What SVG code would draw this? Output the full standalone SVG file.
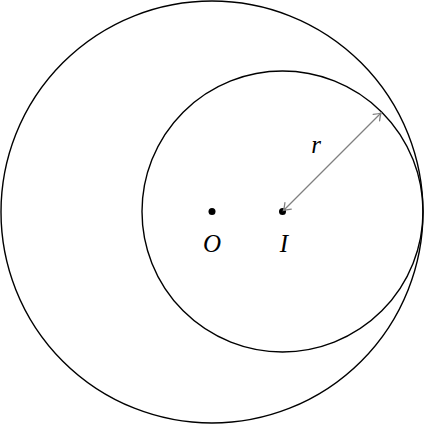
<svg xmlns="http://www.w3.org/2000/svg" width="425" height="425" viewBox="0 0 425 425">
<style>
.c{fill:none;stroke:#000;stroke-width:1.4}
.a{fill:none;stroke:#808080;stroke-width:1.3}
.t{font-family:"Liberation Serif",serif;font-style:italic;font-size:25px;text-anchor:middle}
</style>
<defs>
<marker id="tip" viewBox="-8 -6 10 12" markerWidth="10" markerHeight="12" refX="0" refY="0" orient="auto-start-reverse" markerUnits="userSpaceOnUse">
<path d="M-6.5,-4.5 Q-2,-1 0,0 Q-2,1 -6.5,4.5" fill="none" stroke="#808080" stroke-width="1.3" stroke-linecap="round"/>
</marker>
</defs>
<g id="outer"><circle class="c" cx="212" cy="212" r="211"/></g>
<g id="inner"><circle class="c" cx="282.5" cy="211.5" r="140.5"/></g>
<g id="O"><circle cx="212" cy="211.5" r="3.5"/><text class="t" x="212" y="251.5">O</text></g>
<g id="I"><circle cx="282.5" cy="211.5" r="3.5"/><text class="t" x="284" y="251.5">I</text></g>
<g id="connectors">
<line class="a" x1="283.5" y1="210.5" x2="381" y2="113" marker-start="url(#tip)" marker-end="url(#tip)"/>
<text class="t" x="316" y="152.5">r</text>
</g>
</svg>
